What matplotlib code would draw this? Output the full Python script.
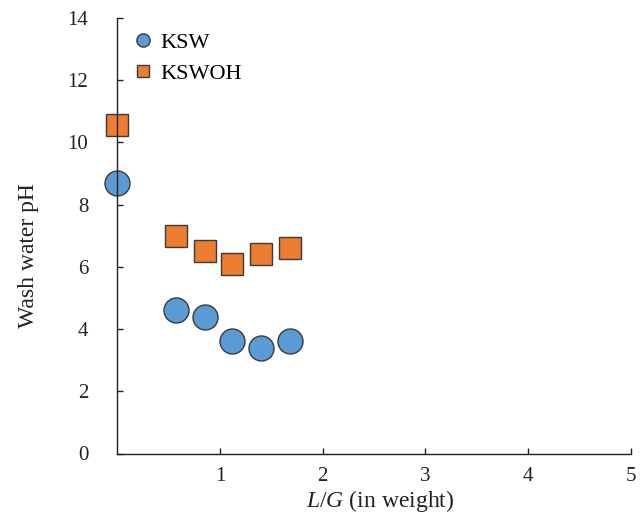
import matplotlib
matplotlib.use("Agg")
import matplotlib.pyplot as plt
from matplotlib.lines import Line2D

# Data
lg_ksw = [0.0, 0.57, 0.85, 1.12, 1.40, 1.68]
ph_ksw = [8.7, 4.6, 4.4, 3.6, 3.4, 3.6]
lg_kswoh = [0.0, 0.57, 0.85, 1.12, 1.40, 1.68]
ph_kswoh = [10.55, 7.0, 6.5, 6.1, 6.4, 6.6]
series_names = ["KSW", "KSWOH"]
xticks = [1, 2, 3, 4, 5]
yticks = [0, 2, 4, 6, 8, 10, 12, 14]

plt.rcParams['font.family'] = ['Liberation Serif', 'DejaVu Serif']
plt.rcParams['mathtext.fontset'] = 'custom'
plt.rcParams['mathtext.rm'] = 'Liberation Serif'
plt.rcParams['mathtext.it'] = 'Liberation Serif:italic'

W, H = 644, 514
fig = plt.figure(figsize=(W / 100, H / 100), dpi=100)
left, right = 117.3, 630.8
top, bottom = 17.9, 453.5
ax = fig.add_axes([left / W, 1 - bottom / H, (right - left) / W, (bottom - top) / H])

blue = '#5B9BD5'
orange = '#ED7D31'
edge = '#3a3a3a'

ax.plot(lg_ksw, ph_ksw, linestyle='none', marker='o', markersize=18,
        markerfacecolor=blue, markeredgecolor=edge, markeredgewidth=1.0, clip_on=False, zorder=2)
ax.plot(lg_kswoh, ph_kswoh, linestyle='none', marker='s', markersize=15.5,
        markerfacecolor=orange, markeredgecolor=edge, markeredgewidth=1.0, clip_on=False, zorder=2)

ax.set_xlim(0, 5)
ax.set_ylim(0, 14)
ax.set_xticks(xticks)
ax.set_yticks(yticks)
ax.spines['top'].set_visible(False)
ax.spines['right'].set_visible(False)
for s in ['left', 'bottom']:
    ax.spines[s].set_linewidth(1.0)
    ax.spines[s].set_color('#222222')
    ax.spines[s].set_zorder(3)
ax.tick_params(axis='both', direction='in', length=4.5, width=1.0, colors='#222222',
               labelcolor='#222222', labelsize=15)
ax.tick_params(axis='y', pad=21)
ax.tick_params(axis='x', pad=10)

ax.set_xlabel(r'$L$/$G$ (in weight)', fontsize=17, color='#222222')
ax.xaxis.set_label_coords((380 - left) / (right - left), -(488 - bottom) / (bottom - top))
ax.set_ylabel('Wash water pH', fontsize=17, color='#222222')
ax.yaxis.set_label_coords((39 - left) / (right - left), (bottom - 256) / (bottom - top))

handles = [
    Line2D([], [], linestyle='none', marker='o', markersize=9.5, markerfacecolor=blue,
           markeredgecolor=edge, markeredgewidth=1.0),
    Line2D([], [], linestyle='none', marker='s', markersize=9, markerfacecolor=orange,
           markeredgecolor=edge, markeredgewidth=1.0),
]
ax.legend(handles, series_names, loc='upper left', frameon=False, fontsize=16,
          bbox_to_anchor=(132.3 / W, 1 - 32.5 / H), bbox_transform=fig.transFigure,
          borderpad=0, borderaxespad=0, handlelength=1.0, handletextpad=0.25,
          labelspacing=0.45)

fig.savefig('out.png', dpi=100)
